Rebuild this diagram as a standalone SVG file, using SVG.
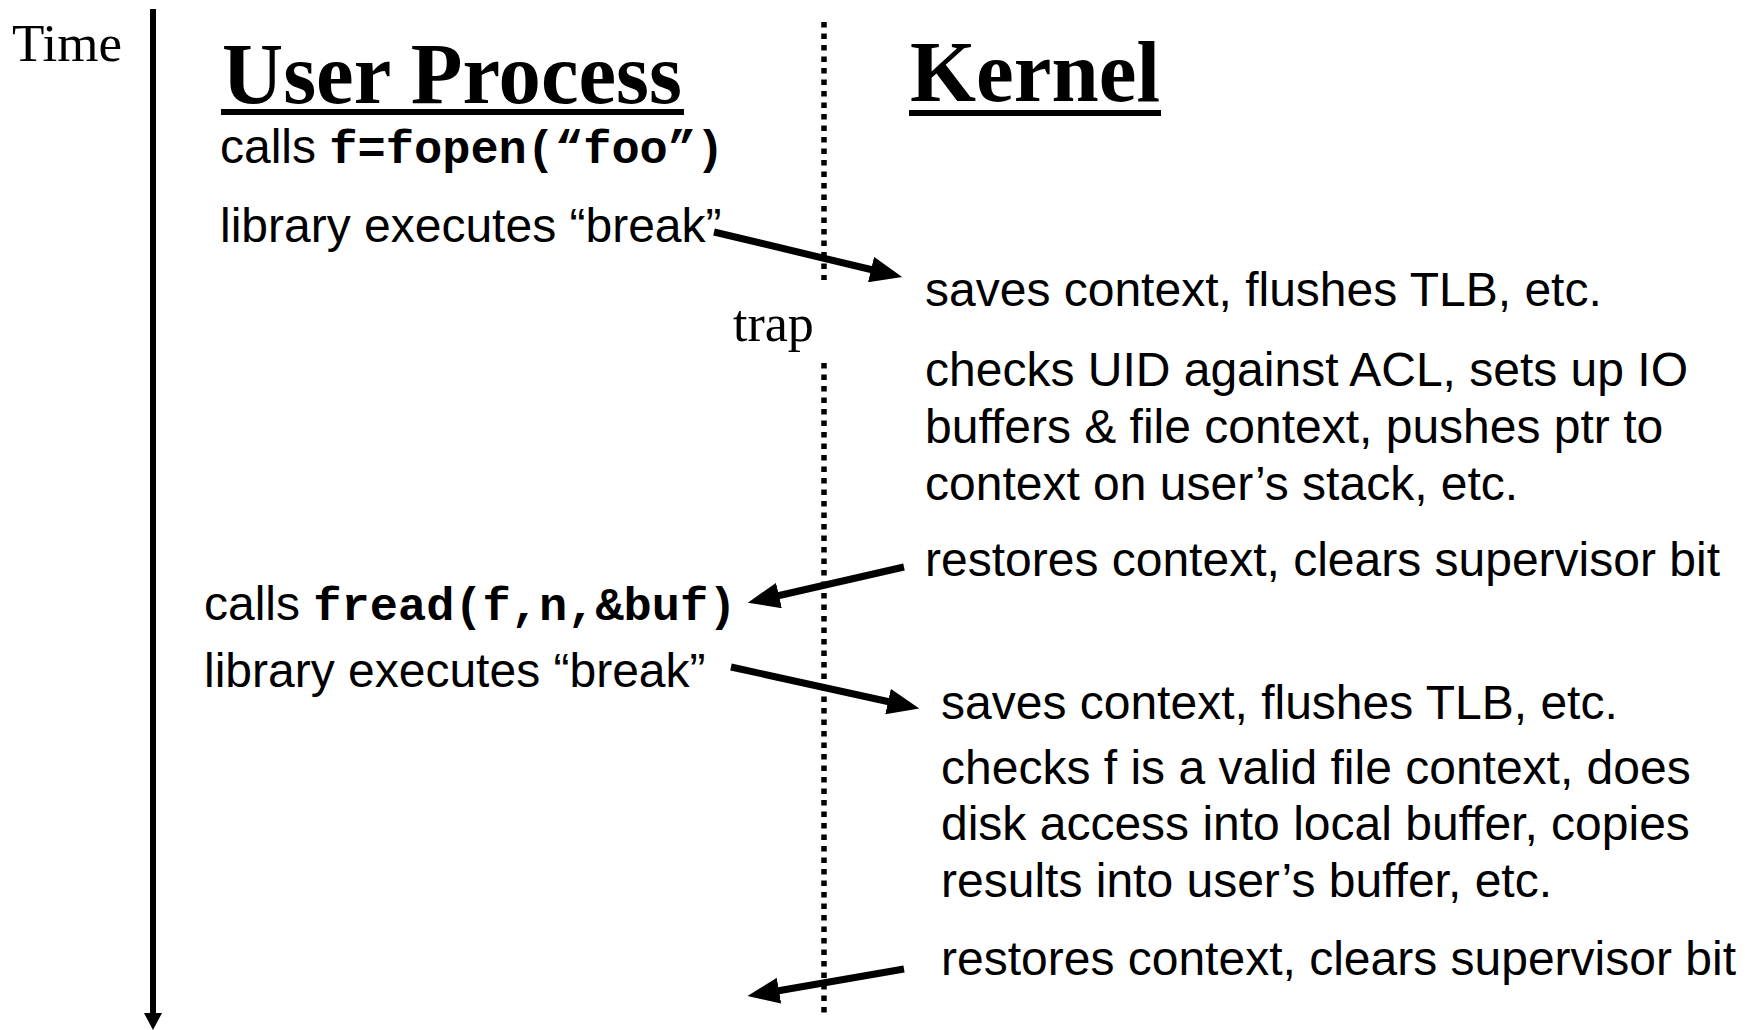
<svg xmlns="http://www.w3.org/2000/svg" width="1750" height="1030" viewBox="0 0 1750 1030">
  <style>
    .serif { font-family: "Liberation Serif", "Times New Roman", serif; fill: #000; }
    .title { font-family: "Liberation Serif", "Times New Roman", serif; font-weight: bold; font-size: 86px; fill: #000; }
    .body { font-family: "Liberation Sans", Arial, sans-serif; font-size: 48px; fill: #000; }
    .code { font-family: "Liberation Mono", "Courier New", monospace; font-weight: bold; font-size: 47px; }
    .rule { fill: #000; }
    .arrow { stroke: #000; stroke-width: 7; fill: none; marker-end: url(#head); }
    .divider { stroke: #000; stroke-width: 5.5; stroke-dasharray: 5.5 6; fill: none; }
  </style>
  <defs>
    <marker id="head" markerUnits="userSpaceOnUse" viewBox="0 0 32 26" markerWidth="32" markerHeight="26" refX="2" refY="13" orient="auto">
      <path d="M0,0 L32,13 L0,26 Z" fill="#000"/>
    </marker>
  </defs>

  <!-- time axis -->
  <g id="time-axis">
    <line x1="153" y1="9" x2="153" y2="1016" stroke="#000" stroke-width="6"/>
    <path d="M144,1013 L162,1013 L153,1030 Z" fill="#000"/>
    <text class="serif" x="12" y="61" font-size="53">Time</text>
  </g>

  <!-- user / kernel boundary -->
  <g id="boundary">
    <line class="divider" x1="824" y1="22" x2="824" y2="280"/>
    <line class="divider" x1="824" y1="363" x2="824" y2="1015"/>
    <text class="serif" x="733" y="341" font-size="52">trap</text>
  </g>

  <!-- column headings -->
  <g id="user-heading">
    <text class="title" x="222" y="103" textLength="460" lengthAdjust="spacingAndGlyphs">User Process</text>
    <rect class="rule" x="221" y="109" width="463" height="6"/>
  </g>
  <g id="kernel-heading">
    <text class="title" x="910" y="101" textLength="250" lengthAdjust="spacingAndGlyphs">Kernel</text>
    <rect class="rule" x="909" y="110" width="252" height="6"/>
  </g>

  <!-- user-side steps -->
  <g id="user-fopen">
    <text class="body" x="220" y="163">calls <tspan class="code">f=fopen(“foo”)</tspan></text>
  </g>
  <g id="user-break-1">
    <text class="body" x="220" y="242">library executes “break”</text>
  </g>
  <g id="user-fread">
    <text class="body" x="204" y="620">calls <tspan class="code">fread(f,n,&amp;buf)</tspan></text>
  </g>
  <g id="user-break-2">
    <text class="body" x="204" y="687">library executes “break”</text>
  </g>

  <!-- kernel-side steps -->
  <g id="kernel-save-1">
    <text class="body" x="925" y="306">saves context, flushes TLB, etc.</text>
  </g>
  <g id="kernel-open">
    <text class="body" x="925" y="386">checks UID against ACL, sets up IO</text>
    <text class="body" x="925" y="443">buffers &amp; file context, pushes ptr to</text>
    <text class="body" x="925" y="500">context on user’s stack, etc.</text>
  </g>
  <g id="kernel-restore-1">
    <text class="body" x="925" y="576">restores context, clears supervisor bit</text>
  </g>
  <g id="kernel-save-2">
    <text class="body" x="941" y="719">saves context, flushes TLB, etc.</text>
  </g>
  <g id="kernel-read">
    <text class="body" x="941" y="784">checks f is a valid file context, does</text>
    <text class="body" x="941" y="840">disk access into local buffer, copies</text>
    <text class="body" x="941" y="897">results into user’s buffer, etc.</text>
  </g>
  <g id="kernel-restore-2">
    <text class="body" x="941" y="975">restores context, clears supervisor bit</text>
  </g>

  <!-- transitions between user and kernel mode -->
  <g id="connectors">
    <line class="arrow" x1="714" y1="232" x2="873" y2="270"/>
    <line class="arrow" x1="904" y1="567" x2="777" y2="596"/>
    <line class="arrow" x1="731" y1="667" x2="890" y2="702"/>
    <line class="arrow" x1="904" y1="969" x2="777" y2="991"/>
  </g>
</svg>
